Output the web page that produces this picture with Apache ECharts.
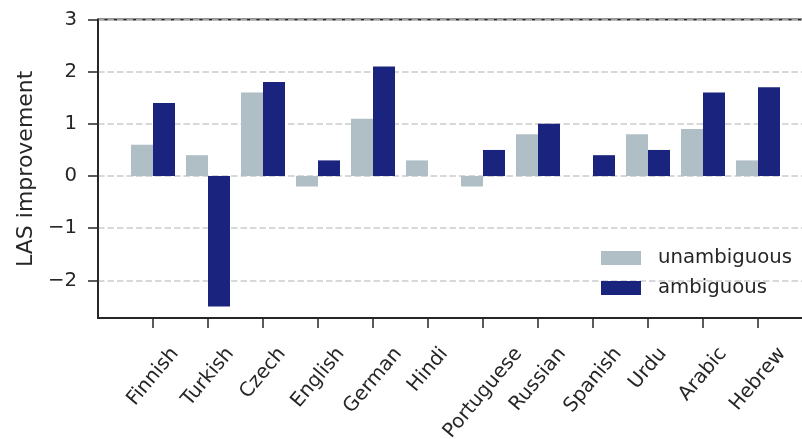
<!DOCTYPE html>
<html>
<head>
<meta charset="utf-8">
<script src="https://cdn.jsdelivr.net/npm/echarts@6/dist/echarts.min.js"></script>
<style>
  html, body { margin: 0; padding: 0; background: #fff; }
  #chart { width: 802px; height: 439px; }
</style>
</head>
<body>
<div id="chart"></div>
<script>
// LAS improvement per language, split by ambiguity of the parsed tokens
const languages = ['Finnish', 'Turkish', 'Czech', 'English', 'German', 'Hindi',
                   'Portuguese', 'Russian', 'Spanish', 'Urdu', 'Arabic', 'Hebrew'];
const unambiguous = [0.6, 0.4, 1.6, -0.2, 1.1, 0.3, -0.2, 0.8, 0.0, 0.8, 0.9, 0.3];
const ambiguous   = [1.4, -2.5, 1.8, 0.3, 2.1, 0.0, 0.5, 1.0, 0.4, 0.5, 1.6, 1.7];
const yTicks = [-2, -1, 0, 1, 2, 3];

const FONT = '"DejaVu Sans", "Liberation Sans", sans-serif';
const TEXT = '#262626';
const FS = 19.7;
const NAME_FS = 22;
const ROT = 50;

// Rotated tick labels: the rotated bounding box is centred under the tick with a fixed top edge.
// Each label gets padding that moves its centre straight down by half the box height.
const ctx = document.createElement('canvas').getContext('2d');
ctx.font = FS + 'px ' + FONT;
const th = ROT * Math.PI / 180;
const rich = {};
languages.forEach((name, i) => {
  const w = ctx.measureText(name).width;
  const h = FS * 1.17;
  const d = (w * Math.sin(th) + h * Math.cos(th)) / 2;
  rich['l' + i] = {
    fontFamily: FONT, fontSize: FS, color: TEXT,
    padding: [2 * d * Math.cos(th), 2 * d * Math.sin(th), 0, 0]
  };
});

const chart = echarts.init(document.getElementById('chart'), null, { renderer: 'canvas' });
chart.setOption({
  animation: false,
  backgroundColor: '#fff',
  textStyle: { fontFamily: FONT, color: TEXT },
  grid: {
    left: 98, top: 19.5, right: -11, bottom: 121,
    outerBoundsMode: 'none', containLabel: false,
    show: true, borderColor: TEXT, borderWidth: 1.8, backgroundColor: 'transparent'
  },
  legend: {
    orient: 'vertical', left: 601, top: 248, padding: 0,
    itemWidth: 40, itemHeight: 14, itemGap: 10,
    icon: 'rect',
    textStyle: { fontFamily: FONT, fontSize: FS, color: TEXT, padding: [0, 0, 0, 12] },
    data: ['unambiguous', 'ambiguous']
  },
  xAxis: {
    type: 'value', min: -1, max: 12,
    splitLine: { show: false },
    axisLine: { show: true, onZero: false, lineStyle: { color: TEXT, width: 1.8 } },
    axisTick: { show: true, length: 10, customValues: languages.map((_, i) => i),
                lineStyle: { color: TEXT, width: 1.5 } },
    axisLabel: {
      customValues: languages.map((_, i) => i),
      rotate: ROT, align: 'center', verticalAlign: 'middle', margin: 25,
      formatter: v => {
        const i = Math.round(v);
        return languages[i] ? '{l' + i + '|' + languages[i] + '}' : '';
      },
      rich: rich
    }
  },
  yAxis: {
    type: 'value', min: -2.72, max: 3,
    name: 'LAS improvement', nameLocation: 'middle', nameRotate: 90, nameGap: 57,
    nameTextStyle: { fontFamily: FONT, fontSize: NAME_FS, color: TEXT },
    axisLine: { show: true, onZero: false, lineStyle: { color: TEXT, width: 1.8 } },
    axisTick: { show: true, length: 10, customValues: yTicks,
                lineStyle: { color: TEXT, width: 1.5 } },
    axisLabel: {
      customValues: yTicks, margin: 21,
      fontFamily: FONT, fontSize: FS, color: TEXT,
      formatter: v => (v < 0 ? '\u2212' + Math.abs(v) : String(v))
    },
    splitLine: {
      show: true,
      lineStyle: { color: '#cccccc', width: 1.5, type: [6.5, 3] }
    }
  },
  series: [
    {
      name: 'unambiguous', type: 'bar', barWidth: '40%', barGap: '0%',
      itemStyle: { color: '#b0bec5' },
      data: unambiguous.map((v, i) => [i, v])
    },
    {
      name: 'ambiguous', type: 'bar', barWidth: '40%', barGap: '0%',
      itemStyle: { color: '#1a237e' },
      data: ambiguous.map((v, i) => [i, v])
    }
  ]
});
</script>
</body>
</html>
